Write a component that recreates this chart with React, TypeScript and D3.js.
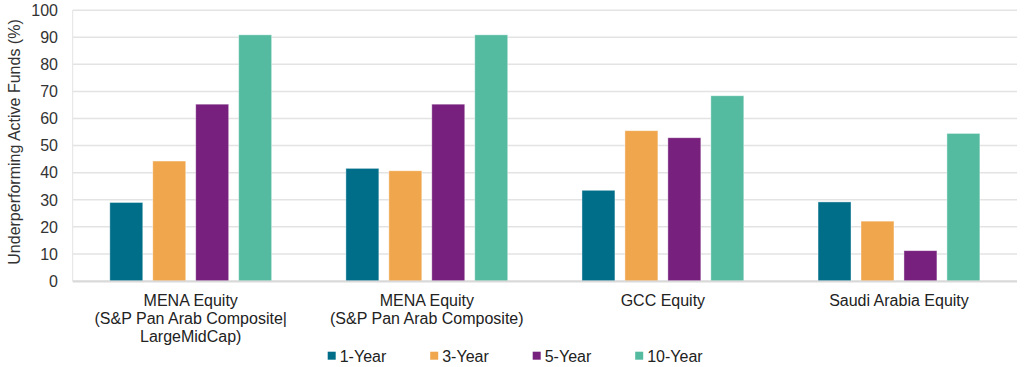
import React from "react";
import * as d3 from "d3";

const categories = [
  ["MENA Equity", "(S&P Pan Arab Composite|", "LargeMidCap)"],
  ["MENA Equity", "(S&P Pan Arab Composite)"],
  ["GCC Equity"],
  ["Saudi Arabia Equity"],
];
const seriesNames = ["1-Year", "3-Year", "5-Year", "10-Year"];
const oneYear = [29.0, 41.6, 33.5, 29.2];
const threeYear = [44.3, 40.7, 55.5, 22.1];
const fiveYear = [65.3, 65.3, 52.9, 11.2];
const tenYear = [90.9, 90.9, 68.4, 54.5];
const colors = ["#006E89", "#F0A64D", "#77207D", "#55BBA0"];
const yTicks = [0, 10, 20, 30, 40, 50, 60, 70, 80, 90, 100];

const W = 1024;
const H = 367;
const font = "'Liberation Sans', Arial, sans-serif";

export default function App() {
  const values = [oneYear, threeYear, fiveYear, tenYear];
  const catIdx = categories.map((_, i) => String(i));

  const x0 = d3.scaleBand().domain(catIdx).range([72.7, 1017]);
  const x1 = d3
    .scaleBand()
    .domain(seriesNames)
    .range([0, x0.bandwidth()])
    .paddingInner(0.2326)
    .paddingOuter(0.864);
  const y = d3.scaleLinear().domain([0, 100]).range([281, 10.2]);

  return (
    <svg
      width={W}
      height={H}
      style={{ position: "absolute", left: 0, top: 0, background: "#fff" }}
      fontFamily={font}
    >
      {/* grid */}
      {yTicks.map((t) => (
        <line
          key={"g" + t}
          x1={72.7}
          x2={1017}
          y1={y(t)}
          y2={y(t)}
          stroke="#e3e3e3"
          strokeWidth={1.5}
        />
      ))}
      <line x1={72.7} x2={72.7} y1={y(100)} y2={y(0)} stroke="#e3e3e3" strokeWidth={1} />

      {/* bars */}
      {catIdx.map((c, ci) => (
        <g key={c} transform={`translate(${x0(c)},0)`}>
          {seriesNames.map((s, si) => (
            <rect
              key={s}
              x={x1(s)}
              y={y(values[si][ci])}
              width={x1.bandwidth()}
              height={y(0) - y(values[si][ci])}
              fill={colors[si]}
              stroke="#ffffff"
              strokeOpacity={0.5}
              strokeWidth={0.8}
            />
          ))}
        </g>
      ))}

      <line x1={72.7} x2={1017} y1={281.5} y2={281.5} stroke="#d9d9d9" strokeWidth={2} />

      {/* y ticks */}
      {yTicks.map((t) => (
        <text
          key={"t" + t}
          x={58}
          y={y(t)}
          dy="0.36em"
          textAnchor="end"
          fontSize={16}
          fill="#333"
        >
          {t}
        </text>
      ))}
      <text
        transform={`translate(20,142) rotate(-90)`}
        textAnchor="middle"
        fontSize={16}
        fill="#333"
      >
        Underperforming Active Funds (%)
      </text>

      {/* x labels */}
      {categories.map((lines, ci) => (
        <text
          key={"x" + ci}
          x={(x0(String(ci)) as number) + x0.bandwidth() / 2}
          y={306}
          textAnchor="middle"
          fontSize={16}
          fill="#222"
        >
          {lines.map((l, li) => (
            <tspan key={li} x={(x0(String(ci)) as number) + x0.bandwidth() / 2} dy={li === 0 ? 0 : 18}>
              {l}
            </tspan>
          ))}
        </text>
      ))}

      {/* legend */}
      {seriesNames.map((s, i) => (
        <g key={"l" + s} transform={`translate(${327.7 + i * 102.5},0)`}>
          <rect x={0} y={351.7} width={8} height={8} fill={colors[i]} />
          <text x={12} y={361.5} fontSize={16} fill="#222">
            {s}
          </text>
        </g>
      ))}
    </svg>
  );
}
